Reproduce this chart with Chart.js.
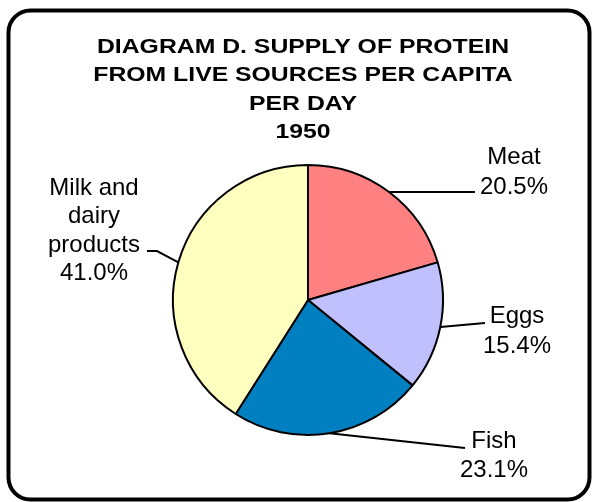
<!DOCTYPE html>
<html>
<head>
<meta charset="utf-8">
<script src="https://cdn.jsdelivr.net/npm/chart.js@4/dist/chart.umd.min.js"></script>
<style>
  html, body { margin: 0; padding: 0; background: #fff; }
  canvas { display: block; }
</style>
</head>
<body>
<canvas id="protein-chart" width="592" height="502"></canvas>
<script>
// Protein supply per capita per day, 1950 (percent of total)
const categories = ['Meat', 'Eggs', 'Fish', 'Milk and dairy products'];
const shares = [20.5, 15.4, 23.1, 41.0];
const sliceColors = ['#ff8080', '#c0c0ff', '#0080c0', '#ffffc0'];
const titleLines = ['DIAGRAM D. SUPPLY OF PROTEIN', 'FROM LIVE SOURCES PER CAPITA', 'PER DAY', '1950'];

// Where each callout sits: leader end points, text centre and first baseline
const callouts = [
    { path: [[475, 192]], textX: 514, baseline: 164, lineGap: 30 },
    { path: [[485, 323]], textX: 517, baseline: 323, lineGap: 30 },
    { path: [[465, 448]], textX: 494, baseline: 448, lineGap: 29 },
    { path: [[157, 251], [147, 251]], textX: 94, baseline: 195, lineGap: 28.4 }
];

const LABEL_FONT = '24px "Liberation Sans", Arial, sans-serif';
const TITLE_FONT = 'bold 21px "Liberation Sans", Arial, sans-serif';

// Break a label into lines no wider than maxWidth
function wrapText(ctx, text, maxWidth) {
    const words = text.split(' ');
    const lines = [];
    let line = '';
    words.forEach(w => {
        const test = line ? line + ' ' + w : w;
        if (line && ctx.measureText(test).width > maxWidth) {
            lines.push(line);
            line = w;
        } else {
            line = test;
        }
    });
    if (line) lines.push(line);
    return lines;
}

// Rounded frame and the title block
const framePlugin = {
    id: 'frame',
    afterDraw(chart) {
        const ctx = chart.ctx;
        ctx.save();
        ctx.strokeStyle = '#000';
        ctx.lineWidth = 4;
        ctx.beginPath();
        ctx.roundRect(8.5, 10.5, 581, 489, 22);
        ctx.stroke();

        ctx.fillStyle = '#000';
        ctx.font = TITLE_FONT;
        ctx.textAlign = 'center';
        ctx.textBaseline = 'alphabetic';
        const sx = 1.18;
        titleLines.forEach((t, i) => {
            ctx.save();
            ctx.translate(303, 53 + i * 28.4);
            ctx.scale(sx, 1);
            ctx.fillText(t, 0, 0);
            ctx.restore();
        });
        ctx.restore();
    }
};

// Leader lines from each slice's outer midpoint to its label
const calloutPlugin = {
    id: 'callouts',
    afterDatasetsDraw(chart) {
        const ctx = chart.ctx;
        const arcs = chart.getDatasetMeta(0).data;
        ctx.save();
        ctx.font = LABEL_FONT;
        ctx.fillStyle = '#000';
        ctx.strokeStyle = '#000';
        ctx.lineWidth = 2;
        ctx.textAlign = 'center';
        ctx.textBaseline = 'alphabetic';
        arcs.forEach((arc, i) => {
            const { x, y, startAngle, endAngle, outerRadius } = arc.getProps(['x', 'y', 'startAngle', 'endAngle', 'outerRadius'], true);
            const mid = (startAngle + endAngle) / 2;
            const c = callouts[i];
            ctx.beginPath();
            ctx.moveTo(x + Math.cos(mid) * outerRadius, y + Math.sin(mid) * outerRadius);
            c.path.forEach(p => ctx.lineTo(p[0], p[1]));
            ctx.stroke();

            const lines = wrapText(ctx, categories[i], 110);
            lines.push(shares[i].toFixed(1) + '%');
            lines.forEach((t, j) => ctx.fillText(t, c.textX, c.baseline + j * c.lineGap));
        });
        ctx.restore();
    }
};

new Chart(document.getElementById('protein-chart'), {
    type: 'pie',
    data: {
        labels: categories,
        datasets: [{
            data: shares,
            backgroundColor: sliceColors,
            borderColor: '#000',
            borderWidth: 2,
            hoverBorderWidth: 2,
            hoverOffset: 0,
            offset: 0
        }]
    },
    options: {
        responsive: false,
        animation: false,
        devicePixelRatio: 1,
        events: [],
        radius: 135,
        layout: { padding: { left: 173, right: 149, top: 165, bottom: 67 } },
        plugins: {
            legend: { display: false },
            title: { display: false },
            tooltip: { enabled: false }
        }
    },
    plugins: [framePlugin, calloutPlugin]
});
</script>
</body>
</html>
